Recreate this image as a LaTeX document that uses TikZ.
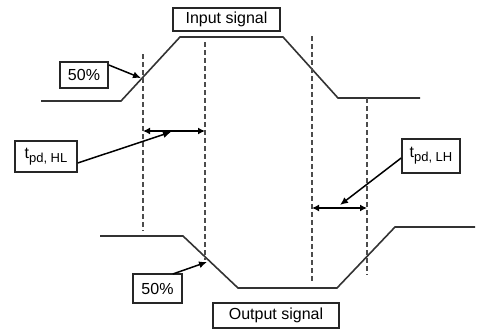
\documentclass[tikz,border=0pt]{standalone}
\usepackage{fontspec}
\setmainfont{Liberation Sans}
\usetikzlibrary{arrows.meta}
\begin{document}
\begin{tikzpicture}[x=1pt,y=-1pt,
  lbl/.style={draw=black!85,line width=1.6pt,fill=white,inner sep=0pt,font=\fontsize{16}{19}\selectfont},
  sig/.style={draw=black!80,line width=1.6pt},
  guide/.style={draw=black!70,line width=1.4pt,dash pattern=on 5pt off 3pt},
  ptr/.style={draw=black,line width=1.5pt,-{Latex[length=8pt,width=7pt]}},
  span/.style={draw=black,line width=1.5pt,{Latex[length=7pt,width=7pt]}-{Latex[length=7pt,width=7pt]}}]
\useasboundingbox (0,0) rectangle (480,330);
% input signal
\coordinate (i1) at (41,101);
\coordinate (i2) at (121,101);
\coordinate (i3) at (180,37);
\coordinate (i4) at (283,37);
\coordinate (i5) at (338,98);
\coordinate (i6) at (420,98);
\draw[sig] (i1) -- (i2) -- (i3) -- (i4) -- (i5) -- (i6);
% output signal
\coordinate (o1) at (100,236);
\coordinate (o2) at (183,236);
\coordinate (o3) at (238,288);
\coordinate (o4) at (337,288);
\coordinate (o5) at (395,227);
\coordinate (o6) at (475,227);
\draw[sig] (o1) -- (o2) -- (o3) -- (o4) -- (o5) -- (o6);
% guides
\coordinate (g1a) at (143,54);  \coordinate (g1b) at (143,231);
\coordinate (g2a) at (205,42);  \coordinate (g2b) at (205,260);
\coordinate (g3a) at (312,36);  \coordinate (g3b) at (312,282);
\coordinate (g4a) at (367,98);  \coordinate (g4b) at (367,275);
\draw[guide] (g1a) -- (g1b);
\draw[guide] (g2a) -- (g2b);
\draw[guide] (g3a) -- (g3b);
\draw[guide] (g4a) -- (g4b);
% labels
\node[lbl,minimum width=107pt,minimum height=23pt] (insig) at (226.5,19.5) {Input signal};
\node[lbl,minimum width=48pt,minimum height=26pt] (pa) at (84,75) {50\%};
\node[lbl,minimum width=62pt,minimum height=31pt] (hl) at (46,156.5) {t\raisebox{-0.5ex}{\fontsize{13}{15}\selectfont pd, HL}};
\node[lbl,minimum width=58pt,minimum height=34pt] (lh) at (431,156) {t\raisebox{-0.5ex}{\fontsize{13}{15}\selectfont pd, LH}};
\node[lbl,minimum width=49pt,minimum height=29pt] (pb) at (157.5,288.5) {50\%};
\node[lbl,minimum width=126pt,minimum height=25pt] (outsig) at (276,315.5) {Output signal};
% spans
\coordinate (s1a) at (143,131); \coordinate (s1b) at (205,131);
\coordinate (s2a) at (312,208); \coordinate (s2b) at (367,208);
\draw[span] (s1a) -- (s1b);
\draw[span] (s2a) -- (s2b);
% pointers
\coordinate (pat) at (141,78);
\coordinate (hlt) at (171,132);
\coordinate (lht) at (340,205);
\coordinate (pbt) at (207,262);
\draw[ptr] (pa.east |- 0,65) -- (pat);
\draw[ptr] (hl.east |- 0,163) -- (hlt);
\draw[ptr] (lh.west |- 0,158) -- (lht);
\draw[ptr] (pb.north east |- 0,274) ++(-10,0) -- (pbt);
\end{tikzpicture}
\end{document}
